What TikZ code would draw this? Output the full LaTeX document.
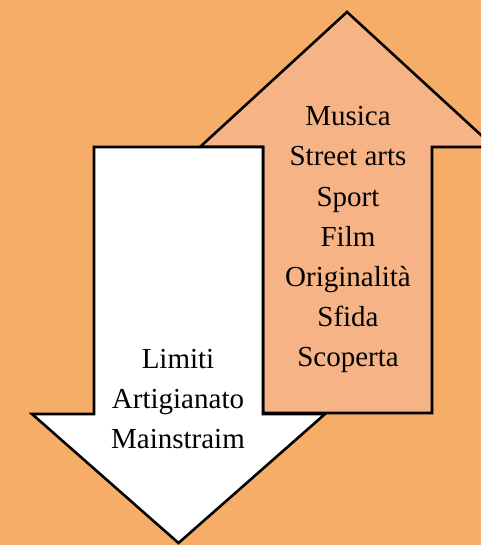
\documentclass[tikz,border=0pt]{standalone}
\usepackage{fontspec}
\setmainfont{Liberation Serif}
\definecolor{bgorange}{RGB}{245,173,104}
\definecolor{upfill}{RGB}{246,180,134}
\begin{document}
\begin{tikzpicture}[x=1pt,y=-1pt,
  arrowshape/.style={draw=black,line width=2.6pt,line join=miter},
  lbl/.style={anchor=base,inner sep=0pt,font=\fontsize{29}{35}\selectfont,text=black}]
\fill[bgorange] (0,0) rectangle (481,545);
\useasboundingbox (0,0) rectangle (481,545);
\begin{scope}
\clip (0,0) rectangle (481,545);
% up arrow
\draw[arrowshape,fill=upfill] (347,12) -- (494,147) -- (432,147) -- (432,413) -- (263,413) -- (263,147) -- (200,147) -- cycle;
% down arrow
\draw[arrowshape,fill=white] (94,147) -- (263,147) -- (263,414) -- (325,414) -- (178.5,543) -- (32,414) -- (94,414) -- cycle;
\end{scope}
\node[lbl] (u1) at (348,126) {Musica};
\node[lbl] (u2) at (348,166) {Street arts};
\node[lbl] (u3) at (348,206) {Sport};
\node[lbl] (u4) at (348,246) {Film};
\node[lbl] (u5) at (348,286) {Originalità};
\node[lbl] (u6) at (348,326) {Sfida};
\node[lbl] (u7) at (348,366) {Scoperta};
\node[lbl] (d1) at (178,368) {Limiti};
\node[lbl] (d2) at (178,408) {Artigianato};
\node[lbl] (d3) at (178,448) {Mainstraim};
\end{tikzpicture}
\end{document}
